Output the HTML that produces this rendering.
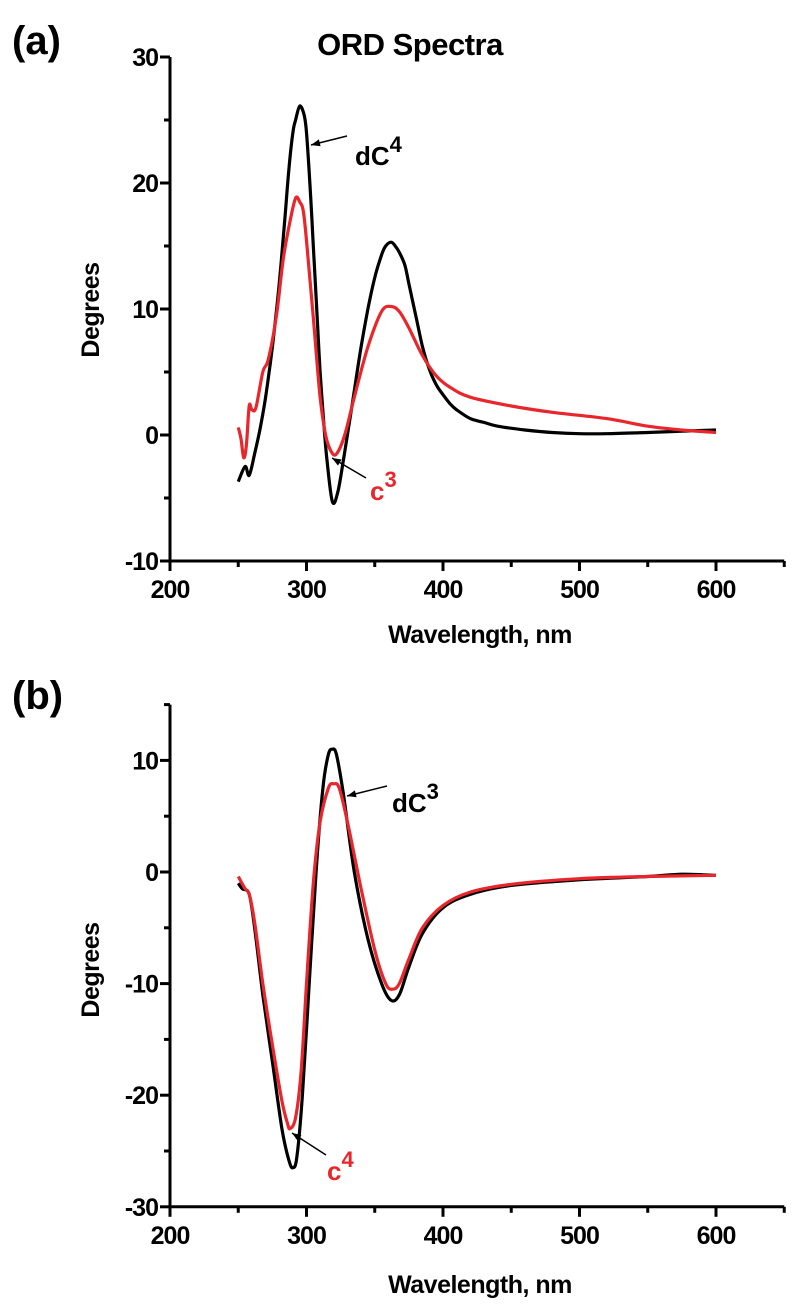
<!DOCTYPE html>
<html><head><meta charset="utf-8"><style>
body{margin:0;background:#fff}
svg{display:block;font-family:"Liberation Sans",Arial,sans-serif;font-weight:bold}
</style></head><body>
<svg id="fig" width="800" height="1307" viewBox="0 0 800 1307" xmlns="http://www.w3.org/2000/svg"></svg>
<script>
const xTicks=[200,300,400,500,600];
const aYTicks=[-10,0,10,20,30];
const bYTicks=[-30,-20,-10,0,10];
const aBlackX=[250,255,258,262,266,270,275,280,284,287,290,292,295,298,300,303,305,308,310,313,315,319,323,327,330,335,340,345,350,355,358,362,365,368,372,375,380,385,390,395,400,405,410,420,430,440,460,480,500,520,550,575,600];
const aBlackY=[-3.7,-2.5,-3.2,-1.5,0.5,3,7,12,17,21,24,25,26.1,25.5,24,19,15,9,5,0.5,-2,-5.3,-4.5,-2,0,3.5,7,10,12.5,14.3,15,15.3,15,14.5,13.5,12,9.5,7,5.2,4,3.2,2.5,2,1.3,1,0.7,0.4,0.2,0.1,0.1,0.2,0.3,0.4];
const aRedX=[250,252,254,256,258,260,263,268,272,278,283,288,292,295,298,302,306,310,314,318,322,328,335,345,355,362,368,375,385,395,405,420,450,480,520,550,575,600];
const aRedY=[0.6,-0.3,-1.8,-0.8,2.3,2,2.2,5,6,9.5,14,17,18.8,18.5,17.5,13,8,3,0,-1.3,-1.5,0,3,7,9.8,10.2,9.8,8.5,6.3,4.7,3.8,3.0,2.3,1.8,1.3,0.7,0.4,0.2];
const bBlackX=[250,253,258,262,268,275,282,287,290,293,297,302,307,312,316,319,322,327,335,345,355,362,368,375,385,400,420,450,500,550,575,600];
const bBlackY=[-1,-1.5,-2,-5,-11,-17,-23,-25.8,-26.5,-25.5,-20,-10,0,7.5,10.5,11,10.5,7,0,-6,-10,-11.5,-11,-8.5,-5.5,-3.2,-2,-1.2,-0.7,-0.4,-0.2,-0.3];
const bRedX=[250,255,258,262,268,275,282,286,288,292,296,300,305,310,316,320,324,330,340,350,358,363,368,375,385,400,420,450,500,550,600];
const bRedY=[-0.4,-1.5,-2,-4.5,-10,-15.5,-20.5,-22.5,-23,-22,-18,-10,-1,4.5,7.5,7.9,7.5,4.5,-1.5,-7,-10,-10.5,-10,-7.8,-5,-3,-1.8,-1.1,-0.6,-0.4,-0.3];

const NS="http://www.w3.org/2000/svg";
const svg=document.getElementById('fig');
function mk(tag,attrs,parent){const e=document.createElementNS(NS,tag);for(const k in attrs)e.setAttribute(k,attrs[k]);(parent||svg).appendChild(e);return e;}
function txt(s,attrs){const e=mk('text',attrs);e.textContent=s;return e;}
const X0=170,XS=1.365;
function xs(v){return X0+(v-200)*XS;}
function smooth(pts){
  let d='M'+pts[0][0].toFixed(1)+' '+pts[0][1].toFixed(1);
  for(let i=0;i<pts.length-1;i++){
    const p0=pts[Math.max(0,i-1)],p1=pts[i],p2=pts[i+1],p3=pts[Math.min(pts.length-1,i+2)];
    const c1x=p1[0]+(p2[0]-p0[0])/6,c1y=p1[1]+(p2[1]-p0[1])/6;
    const c2x=p2[0]-(p3[0]-p1[0])/6,c2y=p2[1]-(p3[1]-p1[1])/6;
    d+=` C${c1x.toFixed(1)} ${c1y.toFixed(1)} ${c2x.toFixed(1)} ${c2y.toFixed(1)} ${p2[0].toFixed(1)} ${p2[1].toFixed(1)}`;
  }
  return d;
}

function panel(name,yZero,yPer,yMin,yMax,yTicks,series){
  const ys=v=>yZero-v*yPer;
  const g=mk('g',{});
  
  
  const xa=mk('line',{x1:X0-1.5,y1:ys(yMin),x2:xs(650),y2:ys(yMin),stroke:'#000','stroke-width':3},g);
  
  
  const ya=mk('line',{x1:X0,y1:ys(yMin),x2:X0,y2:ys(yMax),stroke:'#000','stroke-width':3},g);
  
  
  for(let v=200;v<=650;v+=50){
    const major=v%100===0;
    mk('line',{x1:xs(v),y1:ys(yMin),x2:xs(v),y2:ys(yMin)+(major?10:6),stroke:'#000','stroke-width':3},g);
  }
  xTicks.forEach(v=>{const t=txt(String(v),{x:xs(v),y:ys(yMin)+37,'text-anchor':'middle','font-size':25,'letter-spacing':-1});
    
    });
  for(let v=yMin;v<=yMax;v+=5){
    const major=v%10===0;
    mk('line',{x1:X0,y1:ys(v),x2:X0-(major?10:6),y2:ys(v),stroke:'#000','stroke-width':3},g);
  }
  yTicks.forEach(v=>{const t=txt(String(v),{x:X0-12,y:ys(v)+9,'text-anchor':'end','font-size':25,'letter-spacing':-1});
    
    });
  series.forEach(s=>{
    const pts=s.x.map((v,i)=>[xs(v),ys(s.y[i])]);
    const p=mk('path',{d:smooth(pts),fill:'none',stroke:s.c,'stroke-width':3.2,'stroke-linejoin':'round'},g);
    
    
  });
  return ys;
}
panel('panel-a',435,12.6,-10,30,aYTicks,[{x:aBlackX,y:aBlackY,c:'#000',n:'dc4-line'},{x:aRedX,y:aRedY,c:'#e8262b',n:'c3-line'}]);
panel('panel-b',872,11.16,-30,15,bYTicks,[{x:bBlackX,y:bBlackY,c:'#000',n:'dc3-line'},{x:bRedX,y:bRedY,c:'#e8262b',n:'c4-line'}]);

let t;
t=txt('(a)',{x:12,y:54,'font-size':40});

t=txt('(b)',{x:12,y:709,'font-size':40});

t=txt('ORD Spectra',{x:410,y:55,'text-anchor':'middle','font-size':31,'letter-spacing':-0.5});

t=txt('Wavelength, nm',{x:480,y:643,'text-anchor':'middle','font-size':25,'letter-spacing':-0.5});

t=txt('Wavelength, nm',{x:480,y:1293,'text-anchor':'middle','font-size':25,'letter-spacing':-0.5});

t=txt('Degrees',{x:0,y:0,'text-anchor':'middle','font-size':25,'letter-spacing':-0.5,transform:'translate(99,310) rotate(-90)'});

t=txt('Degrees',{x:0,y:0,'text-anchor':'middle','font-size':25,'letter-spacing':-0.5,transform:'translate(99,970) rotate(-90)'});


function arrow(x1,y1,x2,y2,name){
  const g=mk('g',{});
  
  
  mk('line',{x1:x1,y1:y1,x2:x2,y2:y2,stroke:'#000','stroke-width':1.5},g);
  const a=Math.atan2(y2-y1,x2-x1),L=9,W=3.5;
  const bx=x2-L*Math.cos(a),by=y2-L*Math.sin(a);
  mk('polygon',{points:`${x2},${y2} ${bx-W*Math.sin(a)},${by+W*Math.cos(a)} ${bx+W*Math.sin(a)},${by-W*Math.cos(a)}`,fill:'#000'},g);
}
function lbl(base,sup,x,y,color,name){
  const e=mk('text',{x:x,y:y,'font-size':26,fill:color});
  
  
  const s1=mk('tspan',{},e);s1.textContent=base;
  const s2=mk('tspan',{dy:-13,'font-size':22},e);s2.textContent=sup;
}
arrow(347,136,311,145,'dc4-arrow');
lbl('dC','4',355,165,'#000','dc4-label');
arrow(366,478,332,458,'c3-arrow');
lbl('c','3',370,500,'#e8262b','c3-label');
arrow(387,786,347,796,'dc3-arrow');
lbl('dC','3',392,812,'#000','dc3-label');
arrow(326,1155,292,1133,'c4-arrow');
lbl('c','4',327,1180,'#e8262b','c4-label');
</script>
</body></html>
